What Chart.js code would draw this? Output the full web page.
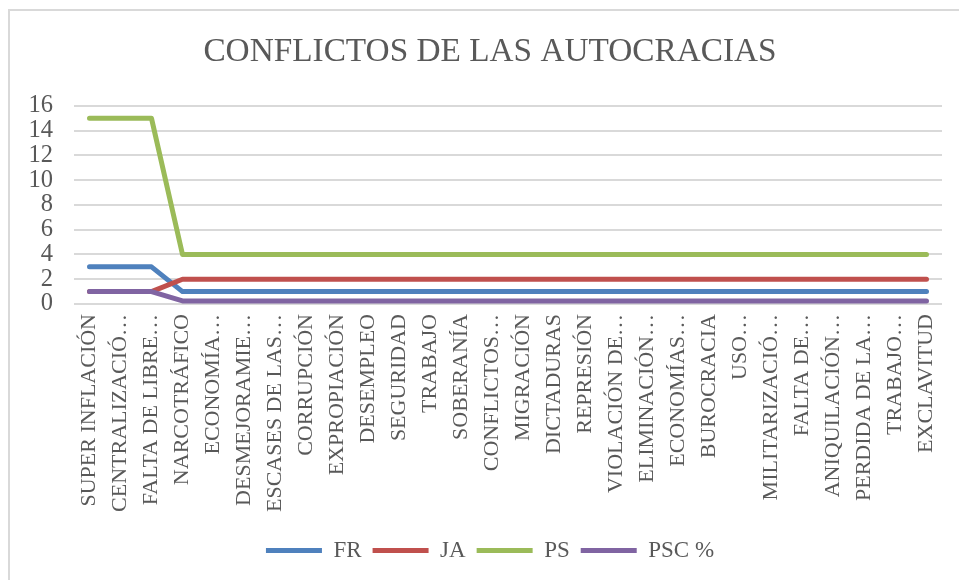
<!DOCTYPE html>
<html lang="es">
<head>
<meta charset="utf-8">
<title>Conflictos de las autocracias</title>
<script src="https://cdn.jsdelivr.net/npm/chart.js@4.4.1/dist/chart.umd.min.js"></script>
<style>
  html, body { margin: 0; padding: 0; background: #ffffff; overflow: hidden; }
  .frame {
    position: absolute; left: 8px; top: 9px; width: 1000px; height: 620px;
    border: 2px solid #d9d9d9; box-sizing: border-box;
  }
  .wrap { position: absolute; left: 0; top: 0; width: 959px; height: 580px; overflow: hidden; }
</style>
</head>
<body>
<div class="frame"></div>
<div class="wrap"><canvas id="chart" width="980" height="580"></canvas></div>
<script>
const categories = [
  'SUPER INFLACIÓN', 'CENTRALIZACIÓ…', 'FALTA DE LIBRE…', 'NARCOTRÁFICO',
  'ECONOMÍA…', 'DESMEJORAMIE…', 'ESCASES DE LAS…', 'CORRUPCIÓN',
  'EXPROPIACIÓN', 'DESEMPLEO', 'SEGURIDAD', 'TRABAJO', 'SOBERANÍA',
  'CONFLICTOS…', 'MIGRACIÓN', 'DICTADURAS', 'REPRESIÓN', 'VIOLACIÓN DE…',
  'ELIMINACIÓN…', 'ECONOMÍAS…', 'BUROCRACIA', 'USO…', 'MILITARIZACIÓ…',
  'FALTA DE…', 'ANIQUILACIÓN…', 'PERDIDA DE LA…', 'TRABAJO…', 'EXCLAVITUD'
];

const frValues  = [3, 3, 3, 1, 1, 1, 1, 1, 1, 1, 1, 1, 1, 1, 1, 1, 1, 1, 1, 1, 1, 1, 1, 1, 1, 1, 1, 1];
const jaValues  = [1, 1, 1, 2, 2, 2, 2, 2, 2, 2, 2, 2, 2, 2, 2, 2, 2, 2, 2, 2, 2, 2, 2, 2, 2, 2, 2, 2];
const psValues  = [15, 15, 15, 4, 4, 4, 4, 4, 4, 4, 4, 4, 4, 4, 4, 4, 4, 4, 4, 4, 4, 4, 4, 4, 4, 4, 4, 4];
const pscValues = [1, 1, 1, 0.25, 0.25, 0.25, 0.25, 0.25, 0.25, 0.25, 0.25, 0.25, 0.25, 0.25,
  0.25, 0.25, 0.25, 0.25, 0.25, 0.25, 0.25, 0.25, 0.25, 0.25, 0.25, 0.25, 0.25, 0.25];

const yTicks = [0, 2, 4, 6, 8, 10, 12, 14, 16];

const FONT = "'Liberation Serif', 'Times New Roman', serif";
const TEXT = '#595959';
const GRID = '#d9d9d9';

function series(label, data, color, order) {
  return {
    label,
    data,
    borderColor: color,
    backgroundColor: color,
    borderWidth: 5,
    borderCapStyle: 'round',
    borderJoinStyle: 'round',
    pointRadius: 0,
    pointHoverRadius: 0,
    tension: 0,
    fill: false,
    order
  };
}

new Chart(document.getElementById('chart').getContext('2d'), {
  type: 'line',
  data: {
    labels: categories,
    datasets: [
      series('FR', frValues, '#4f81bd', 4),
      series('JA', jaValues, '#c0504d', 3),
      series('PS', psValues, '#9bbb59', 2),
      series('PSC %', pscValues, '#8064a2', 1)
    ]
  },
  options: {
    responsive: false,
    animation: false,
    layout: {
      padding: { top: 0, left: 8, right: 8, bottom: 8 }
    },
    plugins: {
      title: {
        display: true,
        text: 'CONFLICTOS DE LAS AUTOCRACIAS',
        color: TEXT,
        font: { family: FONT, size: 33.3, weight: 'normal', lineHeight: 1.2 },
        padding: { top: 32, bottom: 34 }
      },
      legend: {
        position: 'bottom',
        labels: {
          color: TEXT,
          font: { family: FONT, size: 23 },
          usePointStyle: true,
          pointStyle: 'line',
          pointStyleWidth: 56,
          padding: 11,
          sort: (a, b) => a.datasetIndex - b.datasetIndex
        }
      },
      tooltip: { enabled: false }
    },
    scales: {
      x: {
        offset: true,
        grid: { display: false, drawTicks: false },
        border: { display: false },
        ticks: {
          color: TEXT,
          font: { family: FONT, size: 22 },
          minRotation: 90,
          maxRotation: 90,
          autoSkip: false,
          padding: 10
        },
        afterFit(scale) {
          scale.height = 224;
        }
      },
      y: {
        min: 0,
        max: 16,
        afterBuildTicks(scale) {
          scale.ticks = yTicks.map((value) => ({ value }));
        },
        grid: { color: GRID, lineWidth: 2, drawTicks: false },
        border: { display: false },
        ticks: {
          color: TEXT,
          font: { family: FONT, size: 24.5 },
          padding: 21,
          autoSkip: false
        },
        afterFit(scale) {
          scale.width = 66;
        }
      },
      // empty right-hand margin so the plot ends short of the frame edge
      yRight: {
        position: 'right',
        grid: { display: false, drawTicks: false },
        border: { display: false },
        ticks: { display: false },
        afterFit(scale) {
          scale.width = 30;
        }
      }
    }
  }
});
</script>
</body>
</html>
